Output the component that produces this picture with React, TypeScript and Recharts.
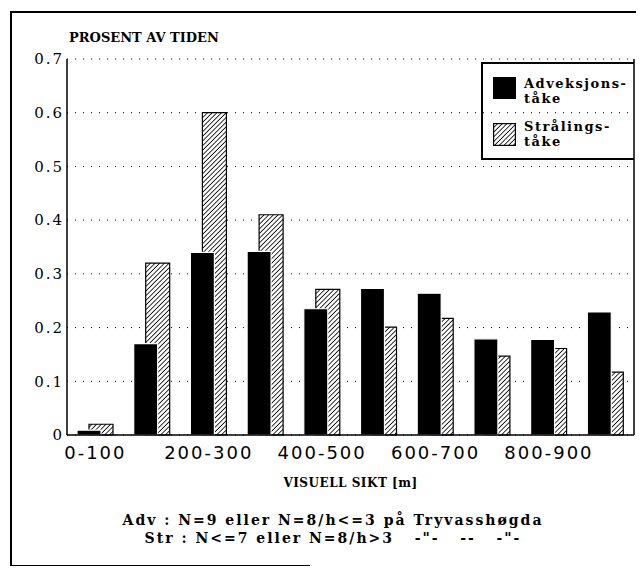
import { BarChart, Bar, XAxis, YAxis, CartesianGrid, Legend } from "recharts"

// visuell sikt, 100 m klasser
const ranges = [
  "0-100",
  "100-200",
  "200-300",
  "300-400",
  "400-500",
  "500-600",
  "600-700",
  "700-800",
  "800-900",
  "900-1000",
]
const adveksjon = [0.009, 0.17, 0.34, 0.342, 0.235, 0.273, 0.264, 0.179, 0.178, 0.229]
const straling = [0.02, 0.32, 0.6, 0.41, 0.271, 0.201, 0.217, 0.147, 0.161, 0.117]
const yTicks = [0, 0.1, 0.2, 0.3, 0.4, 0.5, 0.6, 0.7]
const legendNames = ["Adveksjons-\ntåke", "Strålings-\ntåke"]
const footer = [
  "Adv : N=9 eller N=8/h<=3 på Tryvasshøgda",
  'Str : N<=7 eller N=8/h>3   -"-   --   -"-',
]

const data = ranges.map((range, i) => ({
  range,
  adv: adveksjon[i],
  str: straling[i],
}))

const axisLine = { stroke: "#000", strokeWidth: 1.5 }

function Hatch({ id }: { id: string }) {
  return (
    <pattern
      id={id}
      patternUnits="userSpaceOnUse"
      width={3.3}
      height={3.3}
      patternTransform="rotate(45)"
    >
      <rect width={3.3} height={3.3} fill="#fff" />
      <line x1={0} y1={0} x2={0} y2={3.3} stroke="#000" strokeWidth={1.6} />
    </pattern>
  )
}

function LegendBox() {
  const entry = (i: number, top: number) => (
    <div key={i} style={{ position: "absolute", left: 10, top, display: "flex" }}>
      <svg width={23} height={23} style={{ display: "block" }}>
        <defs>
          <Hatch id="hatch-legend" />
        </defs>
        {i === 0 ? (
          <rect x={0} y={0} width={23} height={22} fill="#000" />
        ) : (
          <rect x={0.6} y={0.6} width={21.8} height={21.8} fill="url(#hatch-legend)" stroke="#000" strokeWidth={1.2} />
        )}
      </svg>
      <div style={{ marginLeft: 8, marginTop: i === 0 ? 0 : -3, whiteSpace: "pre" }}>
        {legendNames[i]}
      </div>
    </div>
  )
  return (
    <div
      style={{
        position: "relative",
        boxSizing: "border-box",
        width: 153,
        height: 98,
        borderTop: "2px solid #000",
        borderLeft: "2px solid #000",
        borderBottom: "2px solid #000",
        fontFamily: "DejaVu Serif",
        fontWeight: "bold",
        fontSize: 13,
        letterSpacing: 1.5,
        lineHeight: "14.5px",
        color: "#000",
      }}
    >
      {entry(0, 13)}
      {entry(1, 59)}
    </div>
  )
}

export default function App() {
  return (
    <div style={{ position: "relative", top: 3, left: 2, width: 634, height: 558 }}>
      <div style={{ position: "absolute", left: 0, top: 0, width: 634, height: 2, background: "#000" }} />
      <div style={{ position: "absolute", left: 0, top: 0, width: 2, height: 556, background: "#000" }} />
      <div style={{ position: "absolute", left: 0, top: 554, width: 300, height: 2, background: "#000" }} />

      <BarChart
        width={626}
        height={556}
        data={data}
        margin={{ top: 48, right: 2, bottom: 72, left: 0 }}
      >
        <defs>
          <Hatch id="hatch" />
        </defs>
        <CartesianGrid
          xAxisId="lab"
          yAxisId="v"
          vertical={false}
          stroke="#000"
          strokeDasharray="1 7"
        />
        <XAxis
          xAxisId="lab"
          dataKey="range"
          interval={1}
          height={60}
          tickLine={false}
          tickSize={0}
          tickMargin={11}
          axisLine={axisLine}
          tick={{ fill: "#000", fontSize: 18, fontFamily: "DejaVu Sans", letterSpacing: 2 }}
          label={{
            value: "VISUELL SIKT [m]",
            position: "insideBottom",
            offset: 8,
            fill: "#000",
            fontSize: 12,
            fontWeight: "bold",
            fontFamily: "DejaVu Serif",
            letterSpacing: 0.5,
          }}
        />
        <XAxis xAxisId="adv" dataKey="range" hide height={0} padding={{ left: -6, right: 6 }} />
        <XAxis xAxisId="str" dataKey="range" hide height={0} padding={{ left: 6, right: -6 }} />
        <XAxis
          xAxisId="top"
          dataKey="range"
          orientation="top"
          height={0}
          tick={false}
          tickLine={false}
          axisLine={axisLine}
        />
        <YAxis
          yAxisId="v"
          domain={[0, 0.7]}
          ticks={yTicks}
          width={57}
          tickLine={false}
          tickSize={0}
          tickMargin={3}
          axisLine={axisLine}
          tick={{ fill: "#000", fontSize: 15, fontFamily: "DejaVu Serif", letterSpacing: 2 }}
        />
        <YAxis
          yAxisId="in"
          domain={[0, 0.7]}
          ticks={yTicks}
          width={10}
          mirror
          axisLine={false}
          tickSize={10}
          tickLine={{ stroke: "#000" }}
          tickFormatter={() => ""}
        />
        <YAxis
          yAxisId="r"
          orientation="right"
          domain={[0, 0.7]}
          ticks={yTicks}
          width={10}
          mirror
          axisLine={axisLine}
          tickSize={5}
          tickLine={{ stroke: "#000" }}
          tickFormatter={() => ""}
        />
        <Legend
          layout="horizontal"
          verticalAlign="middle"
          align="center"
          wrapperStyle={{ left: 471, top: 51, width: 153, height: 98 }}
          content={() => <LegendBox />}
        />
        <Bar
          dataKey="str"
          name="Strålingståke"
          xAxisId="str"
          yAxisId="v"
          barSize={24}
          fill="url(#hatch)"
          stroke="#000"
          strokeWidth={1.2}
          isAnimationActive={false}
        />
        <Bar
          dataKey="adv"
          name="Adveksjonståke"
          xAxisId="adv"
          yAxisId="v"
          barSize={24}
          fill="#000"
          stroke="#fff"
          strokeWidth={1.2}
          isAnimationActive={false}
        />
      </BarChart>

      <div
        style={{
          position: "absolute",
          left: 59,
          top: 19,
          fontFamily: "DejaVu Serif",
          fontWeight: "bold",
          fontSize: 13,
          lineHeight: "16px",
          whiteSpace: "nowrap",
        }}
      >
        PROSENT AV TIDEN
      </div>
      <div
        style={{
          position: "absolute",
          left: 0,
          top: 500,
          width: 646,
          textAlign: "center",
          fontFamily: "DejaVu Serif",
          fontWeight: "bold",
          fontSize: 14,
          letterSpacing: 2,
          lineHeight: "18px",
          whiteSpace: "pre",
        }}
      >
        {footer.map((line) => (
          <div key={line}>{line}</div>
        ))}
      </div>
    </div>
  )
}
